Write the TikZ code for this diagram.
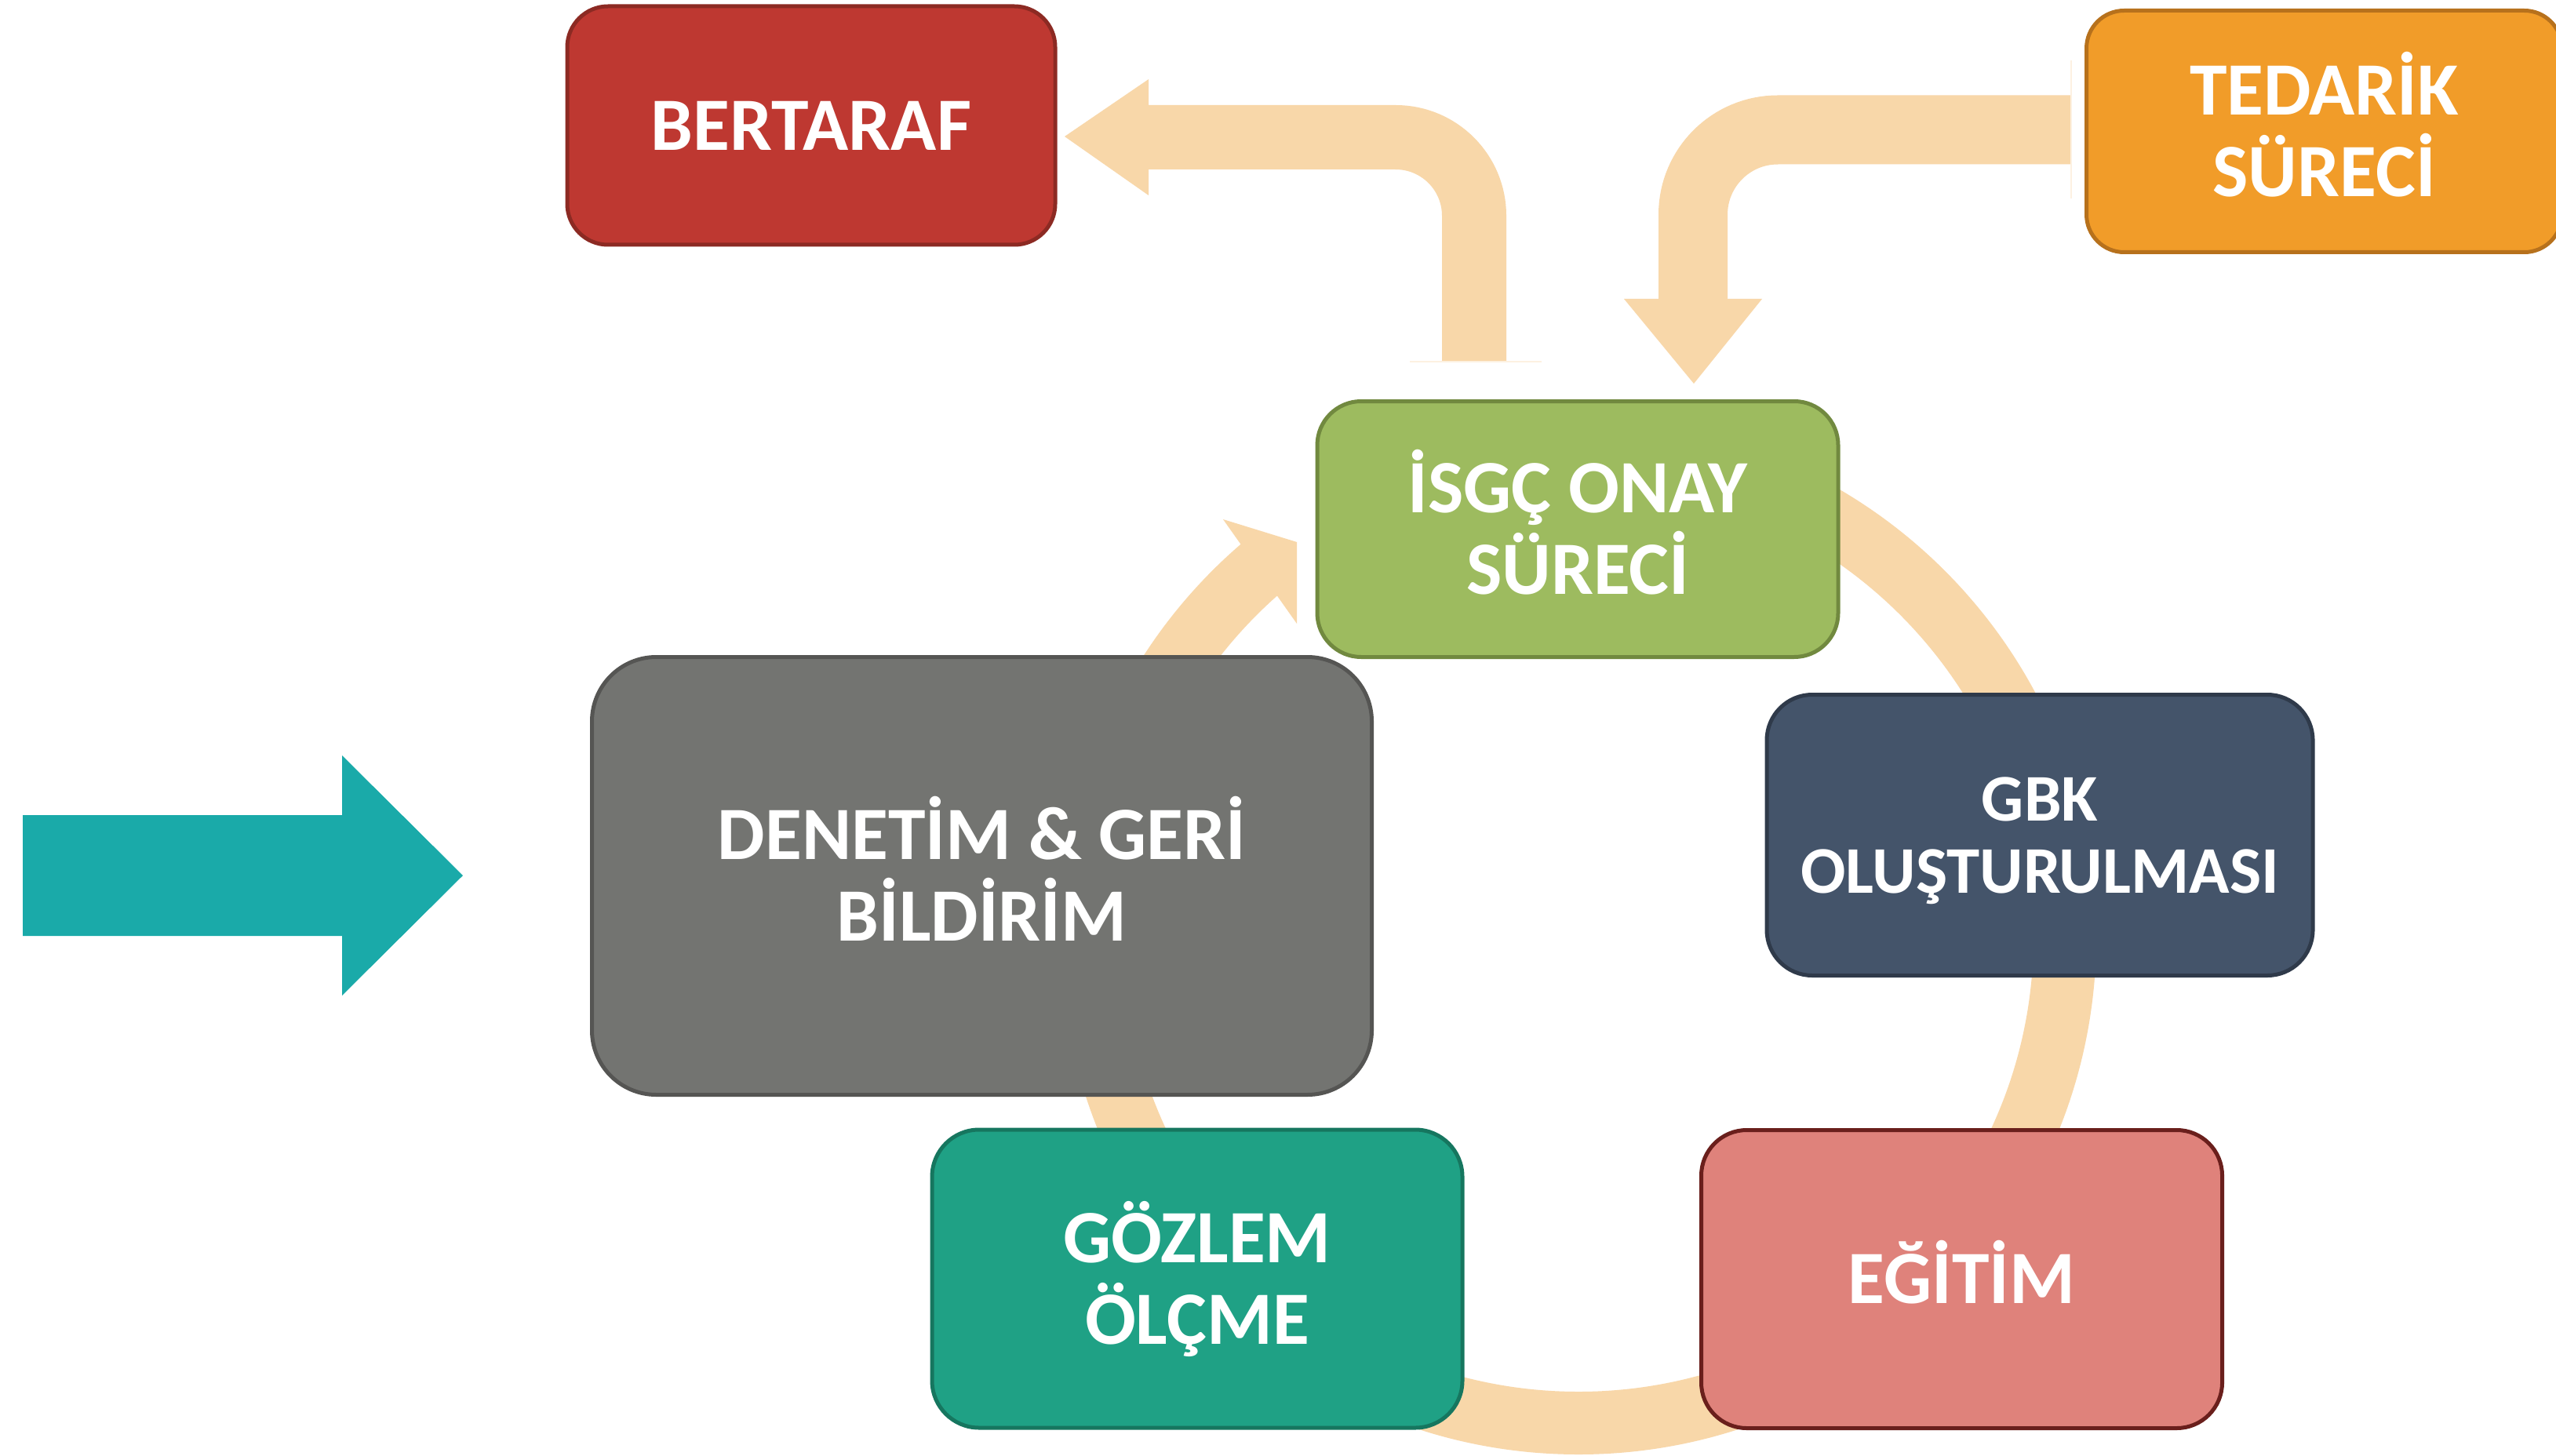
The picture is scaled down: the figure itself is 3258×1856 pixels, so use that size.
\documentclass[tikz,border=0pt]{standalone}
\usepackage{fontspec}
\setmainfont{Carlito}
\definecolor{peach}{HTML}{F8D7A9}
\definecolor{tealarrow}{HTML}{1AAAA9}
\definecolor{bertfill}{HTML}{BE3831}
\definecolor{bertdraw}{HTML}{8C2A23}
\definecolor{tedfill}{HTML}{F19C29}
\definecolor{teddraw}{HTML}{B7711C}
\definecolor{isgfill}{HTML}{9DBB5F}
\definecolor{isgdraw}{HTML}{71893F}
\definecolor{gbkfill}{HTML}{44546A}
\definecolor{gbkdraw}{HTML}{2F3A4A}
\definecolor{denfill}{HTML}{737471}
\definecolor{dendraw}{HTML}{555553}
\definecolor{gozfill}{HTML}{1FA185}
\definecolor{gozdraw}{HTML}{16765F}
\definecolor{egifill}{HTML}{DF827B}
\definecolor{egidraw}{HTML}{6A1F1C}
\newcommand\capl[1]{\vphantom{E}\smash{#1}}
\begin{document}
\begin{tikzpicture}[x=0.5pt,y=-0.5pt,
  box/.style={line width=2.5pt, text=white, align=center, inner sep=0pt,
    font=\bfseries\fontsize{48}{52}\selectfont},
  smallbox/.style={box, font=\bfseries\fontsize{42.5}{46}\selectfont},
  band/.style={draw=peach, line width=#1},
  head/.style={fill=peach},
  faint/.style={draw=peach!35, line width=1pt}]
\useasboundingbox (0,0) rectangle (3258,1856);
\fill[white] (0,0) rectangle (3258,1856);

% cycle ring
\coordinate (ringstart) at (2012,574);
\draw[band=40pt] (ringstart) arc[start angle=-90, end angle=229.5, radius=620];
\fill[head] (1559,662) -- (1653,691) -- (1653,795) -- cycle;

% arrow to BERTARAF
\coordinate (bA) at (1879,461);
\coordinate (bB) at (1879,175);
\coordinate (bC) at (1464,175);
\draw[band=41pt, rounded corners=50pt] (bA) -- (bB) -- (bC);
\fill[head] (1464,101) -- (1357,174) -- (1464,249) -- cycle;
\draw[faint] (1797,461) -- (1965,461);

% arrow from TEDARIK
\coordinate (tA) at (2640,165.5);
\coordinate (tB) at (2158,165.5);
\coordinate (tC) at (2158,381);
\draw[band=44pt, rounded corners=54pt] (tA) -- (tB) -- (tC);
\fill[head] (2070,381) -- (2159,489) -- (2246,381) -- cycle;
\draw[faint] (2640,77) -- (2640,253);

% teal arrow
\fill[tealarrow] (29,1039) -- (436,1039) -- (436,963) -- (590,1116) -- (436,1269) -- (436,1193) -- (29,1193) -- cycle;

% boxes
\node[box, fill=bertfill, draw=bertdraw, rounded corners=26pt, minimum width=311pt, minimum height=152pt] (bert) at (1034,160) {\capl{BERTARAF}};
\node[box, fill=tedfill, draw=teddraw, rounded corners=24pt, minimum width=303pt, minimum height=154pt] (ted) at (2962.5,167.5) {\capl{TEDARİK}\\\capl{SÜRECİ}};
\node[box, fill=isgfill, draw=isgdraw, rounded corners=28pt, minimum width=332pt, minimum height=163pt] (isg) at (2011,674.5) {\capl{İSGÇ ONAY}\\\capl{SÜRECİ}};
\node[smallbox, fill=gbkfill, draw=gbkdraw, rounded corners=29pt, minimum width=348pt, minimum height=179pt] (gbk) at (2600,1064.5) {\capl{GBK}\\\capl{OLUŞTURULMASI}};
\node[box, fill=denfill, draw=dendraw, rounded corners=41pt, minimum width=497pt, minimum height=279pt] (den) at (1251.5,1116.5) {\capl{DENETİM \& GERİ}\\\capl{BİLDİRİM}};
\node[box, fill=gozfill, draw=gozdraw, rounded corners=30pt, minimum width=338pt, minimum height=190pt] (goz) at (1526,1630) {\capl{GÖZLEM}\\\capl{ÖLÇME}};
\node[box, fill=egifill, draw=egidraw, rounded corners=29pt, minimum width=332pt, minimum height=190pt] (egi) at (2500.5,1630.5) {\capl{EĞİTİM}};
\end{tikzpicture}
\end{document}
